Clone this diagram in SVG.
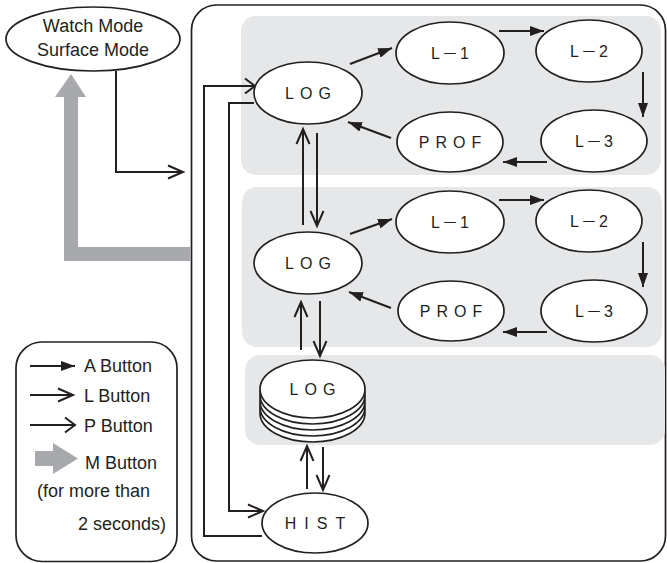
<svg xmlns="http://www.w3.org/2000/svg" width="667" height="563" viewBox="0 0 667 563">
<defs>
<marker id="mA" viewBox="0 0 14 10" refX="14" refY="5" markerWidth="14" markerHeight="10" markerUnits="userSpaceOnUse" orient="auto">
<path d="M0,0 L14,5 L0,10 z" fill="#231f20"/>
</marker>
<marker id="mL" viewBox="-2 -2 19 17" refX="15" refY="6.5" markerWidth="19" markerHeight="17" markerUnits="userSpaceOnUse" orient="auto" overflow="visible">
<path d="M0,0 L15,6.5 L0,13" fill="none" stroke="#231f20" stroke-width="2"/>
</marker>
<marker id="mP" viewBox="-2 -2 14 19" refX="10" refY="7.5" markerWidth="14" markerHeight="19" markerUnits="userSpaceOnUse" orient="auto" overflow="visible">
<path d="M0,0 L10,7.5 L0,15" fill="none" stroke="#231f20" stroke-width="2"/>
</marker>
</defs>
<style>
.panel{fill:#e6e7e8;}
.box{fill:#fff;stroke:#231f20;stroke-width:1.7;}
.node{fill:#fff;stroke:#231f20;stroke-width:1.7;}
.lbl{font-family:"Liberation Sans",Arial,sans-serif;font-size:16px;fill:#231f20;text-anchor:middle;letter-spacing:6px;}
.lbl2{font-family:"Liberation Sans","Noto Sans CJK JP",Arial,sans-serif;font-size:16px;fill:#231f20;text-anchor:middle;letter-spacing:2px;}
.txt{font-family:"Liberation Sans",Arial,sans-serif;font-size:18px;fill:#231f20;}
.c{fill:none;stroke:#231f20;stroke-width:2;}
.a{marker-end:url(#mA);}
.l{marker-end:url(#mL);}
.p{marker-end:url(#mP);}
.gray{fill:#a7a9ac;}
</style>

<rect class="box" x="191.5" y="5" width="474" height="556" rx="25"/>
<rect class="panel" x="241" y="16" width="420" height="159" rx="15"/>
<rect class="panel" x="242" y="187" width="420" height="160" rx="15"/>
<rect class="panel" x="245" y="355" width="420" height="90" rx="15"/>

<g id="connectors">
<path class="c a" d="M350,64 L392,48"/>
<path class="c a" d="M499,31 L544,31"/>
<path class="c a" d="M643,72 L643,117"/>
<path class="c a" d="M547,162 L503,162"/>
<path class="c a" d="M391,138 L348,122"/>
<path class="c a" d="M350,234 L392,219"/>
<path class="c a" d="M499,200 L544,200"/>
<path class="c a" d="M643,242 L643,287"/>
<path class="c a" d="M547,332 L503,332"/>
<path class="c a" d="M391,308 L349,292"/>
<path class="c l" d="M303,225 L303,129"/>
<path class="c l" d="M317,133 L317,226"/>
<path class="c l" d="M301,350 L301,302"/>
<path class="c l" d="M320,301 L320,356"/>
<path class="c l" d="M307,489 L307,446"/>
<path class="c l" d="M323,447 L323,490"/>
<path class="c p" d="M262,536 L204,536 L204,86 L255,86"/>
<path class="c l" d="M254,103 L229,103 L229,511 L263,511"/>
<path class="c l" d="M116,71 L116,172 L183,172"/>
<path class="gray" d="M191,247 L78,247 L78,97 L86,97 L71,74 L55,97 L64,97 L64,261 L191,261 Z"/>
</g>

<g id="watch">
<ellipse class="node" cx="93" cy="39" rx="87" ry="32"/>
<text class="txt" x="93" y="31.5" text-anchor="middle">Watch Mode</text>
<text class="txt" x="93" y="56" text-anchor="middle">Surface Mode</text>
</g>

<g id="log1"><ellipse class="node" cx="308" cy="93" rx="54" ry="31"/><text class="lbl" x="311" y="99">LOG</text></g>
<g id="l1a"><ellipse class="node" cx="450" cy="53" rx="54" ry="31"/><text class="lbl2" x="451" y="59">L－1</text></g>
<g id="l2a"><ellipse class="node" cx="589" cy="51" rx="53" ry="31"/><text class="lbl2" x="590" y="57">L－2</text></g>
<g id="l3a"><ellipse class="node" cx="594" cy="141" rx="53" ry="31"/><text class="lbl2" x="595" y="147">L－3</text></g>
<g id="profa"><ellipse class="node" cx="450" cy="142" rx="53" ry="30"/><text class="lbl" x="453" y="147.5">PROF</text></g>

<g id="log2"><ellipse class="node" cx="308" cy="263" rx="54" ry="31"/><text class="lbl" x="311" y="269">LOG</text></g>
<g id="l1b"><ellipse class="node" cx="450" cy="222" rx="54" ry="31"/><text class="lbl2" x="451" y="228">L－1</text></g>
<g id="l2b"><ellipse class="node" cx="589" cy="221" rx="53" ry="31"/><text class="lbl2" x="590" y="227">L－2</text></g>
<g id="l3b"><ellipse class="node" cx="594" cy="311" rx="53" ry="31"/><text class="lbl2" x="595" y="317">L－3</text></g>
<g id="profb"><ellipse class="node" cx="451" cy="311" rx="53" ry="30"/><text class="lbl" x="454" y="317">PROF</text></g>

<g id="logstack">
<ellipse class="node" cx="312.5" cy="413" rx="52.5" ry="29"/>
<ellipse class="node" cx="312.5" cy="407" rx="52.5" ry="29"/>
<ellipse class="node" cx="312.5" cy="401" rx="52.5" ry="29"/>
<ellipse class="node" cx="312.5" cy="395" rx="52.5" ry="29"/>
<ellipse class="node" cx="312.5" cy="389" rx="52.5" ry="29"/>
<text class="lbl" x="315.5" y="394.5">LOG</text>
</g>

<g id="hist"><ellipse class="node" cx="315" cy="523" rx="53" ry="30"/><text class="lbl" x="319" y="529" style="letter-spacing:8px">HIST</text></g>

<g id="legend">
<rect class="box" x="16" y="342" width="161" height="219.5" rx="26"/>
<path class="c a" d="M30,366 L75,366"/>
<path class="c l" d="M30,395 L73,395"/>
<path class="c p" d="M30,425 L75,425"/>
<path class="gray" d="M35,451 L53,451 L53,443 L78,458.5 L53,474 L53,466 L35,466 Z"/>
<text class="txt" x="84" y="372">A Button</text>
<text class="txt" x="84" y="402">L Button</text>
<text class="txt" x="84" y="432">P Button</text>
<text class="txt" x="85" y="469">M Button</text>
<text class="txt" x="37" y="497">(for more than</text>
<text class="txt" x="166" y="530" text-anchor="end">2 seconds)</text>
</g>
</svg>
